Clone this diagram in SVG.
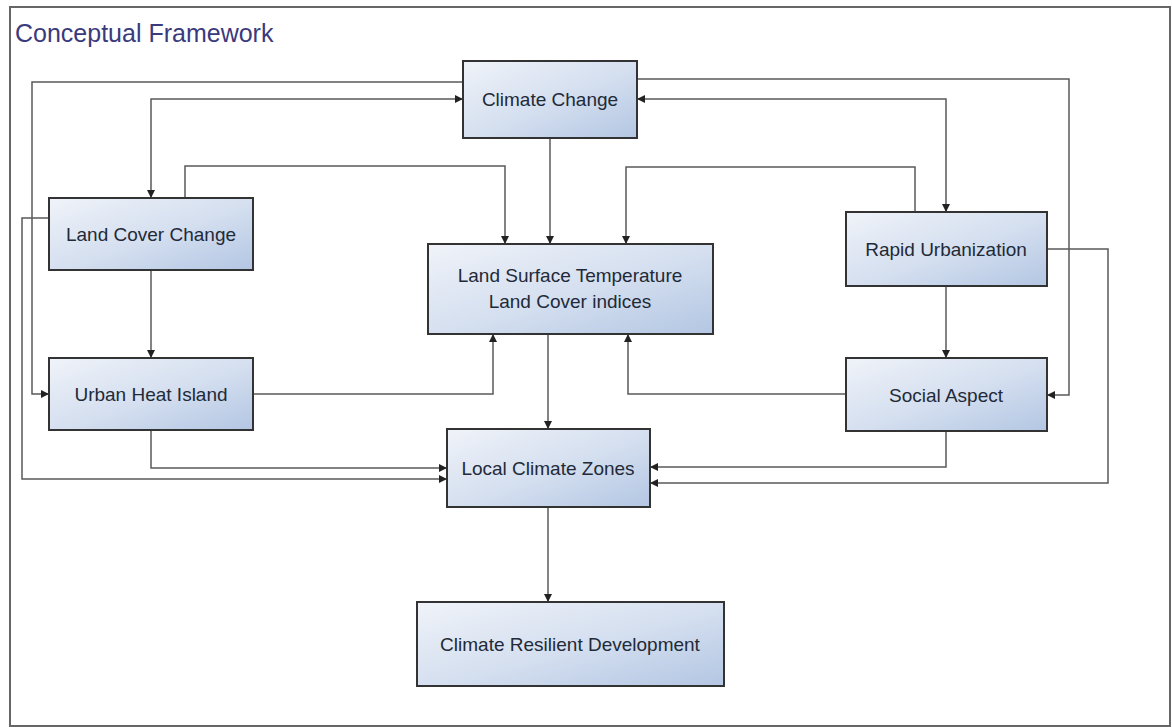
<svg xmlns="http://www.w3.org/2000/svg" width="1172" height="727" viewBox="0 0 1172 727">
<defs>
<linearGradient id="g" x1="0" y1="0" x2="1" y2="1">
<stop offset="0" stop-color="#f0f3f9"/>
<stop offset="0.55" stop-color="#d3deef"/>
<stop offset="1" stop-color="#b3c6e3"/>
</linearGradient>
<marker id="a" viewBox="0 0 8 8" refX="8" refY="4" markerWidth="8" markerHeight="8" markerUnits="userSpaceOnUse" orient="auto">
<path d="M0,0 L8,4 L0,8 z" fill="#222"/>
</marker>
<marker id="s" viewBox="0 0 8 8" refX="0" refY="4" markerWidth="8" markerHeight="8" markerUnits="userSpaceOnUse" orient="auto">
<path d="M8,0 L0,4 L8,8 z" fill="#222"/>
</marker>
</defs>
<style>
.box{fill:url(#g);stroke:#333;stroke-width:2}
.t{font-family:"Liberation Sans",Arial,sans-serif;font-size:19px;fill:#222a38;text-anchor:middle}
.c{fill:none;stroke:#5a5a5a;stroke-width:1.5}
.ar{marker-end:url(#a)}
</style>
<rect x="0" y="0" width="1172" height="727" fill="#fff"/>
<rect x="10" y="7" width="1160" height="719" fill="#fff" stroke="#666" stroke-width="2"/>
<text x="15" y="42" font-family="'Liberation Sans',Arial,sans-serif" font-size="25" fill="#3a3a7c">Conceptual Framework</text>

<g id="connectors">
<path class="c ar" d="M463,82 H32 V394 H49"/>
<path class="c ar" d="M151,198 V99 H463" marker-start="url(#s)" transform="" />
<path class="c ar" d="M49,218 H22 V479 H447"/>
<path class="c ar" d="M185,198 V166 H505 V244"/>
<path class="c ar" d="M550,138 V244"/>
<path class="c ar" d="M915,212 V167 H626 V244"/>
<path class="c ar" d="M946,212 V99 H637" marker-start="url(#s)"/>
<path class="c ar" d="M637,79 H1069 V395 H1047"/>
<path class="c ar" d="M1047,249 H1108 V483 H650"/>
<path class="c ar" d="M946,286 V358"/>
<path class="c ar" d="M151,270 V358"/>
<path class="c ar" d="M253,394 H493 V334"/>
<path class="c ar" d="M846,394 H628 V334"/>
<path class="c ar" d="M548,334 V429"/>
<path class="c ar" d="M946,431 V467 H650"/>
<path class="c ar" d="M151,430 V468 H447"/>
<path class="c ar" d="M548,507 V602"/>
</g>

<g id="climate-change"><rect class="box" x="463" y="61" width="174" height="77"/><text class="t" x="550" y="106">Climate Change</text></g>
<g id="land-cover-change"><rect class="box" x="49" y="198" width="204" height="72"/><text class="t" x="151" y="241">Land Cover Change</text></g>
<g id="urban-heat-island"><rect class="box" x="49" y="358" width="204" height="72"/><text class="t" x="151" y="401">Urban Heat Island</text></g>
<g id="lst"><rect class="box" x="428" y="244" width="285" height="90"/><text class="t" x="570" y="282">Land Surface Temperature</text><text class="t" x="570" y="308">Land Cover indices</text></g>
<g id="local-climate-zones"><rect class="box" x="447" y="429" width="203" height="78"/><text class="t" x="548" y="475">Local Climate Zones</text></g>
<g id="rapid-urbanization"><rect class="box" x="846" y="212" width="201" height="74"/><text class="t" x="946" y="256">Rapid Urbanization</text></g>
<g id="social-aspect"><rect class="box" x="846" y="358" width="201" height="73"/><text class="t" x="946" y="402">Social Aspect</text></g>
<g id="climate-resilient-development"><rect class="box" x="417" y="602" width="307" height="84"/><text class="t" x="570" y="651">Climate Resilient Development</text></g>
</svg>
